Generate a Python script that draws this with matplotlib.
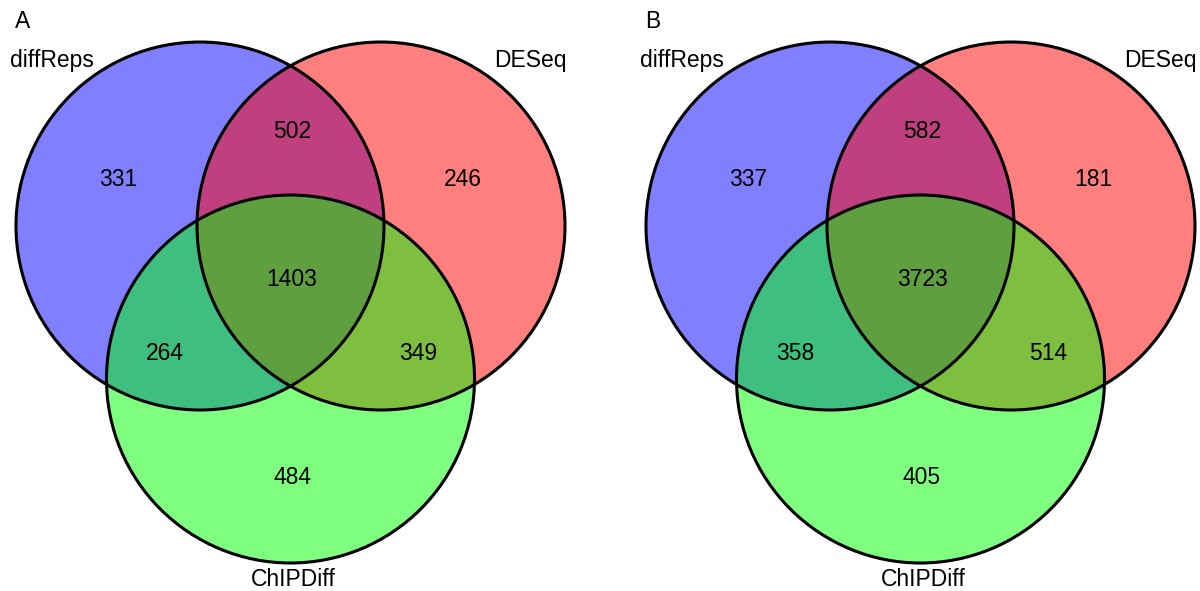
import matplotlib
matplotlib.use("Agg")
import matplotlib.pyplot as plt
from matplotlib.patches import Circle

plt.rcParams["font.family"] = ["Liberation Sans", "DejaVu Sans"]

# set names and region counts, order: only A, A&B, only B, A&B&C, A&C, B&C, only C
set_names = ["diffReps", "DESeq", "ChIPDiff"]
panel_letters = ["A", "B"]
regions = ["a", "ab", "b", "abc", "ac", "bc", "c"]
counts_A = [331, 502, 246, 1403, 264, 349, 484]
counts_B = [337, 582, 181, 3723, 358, 514, 405]

colors = ["blue", "red", "lime"]

# layout (pixel units, y pointing down)
r = 184
centers = [(200, 226), (381, 226), (290.5, 379)]
region_pos = {"a": (118, 180), "ab": (292, 132), "b": (463, 180),
              "abc": (292, 280), "ac": (165, 353), "bc": (418, 353),
              "c": (292, 478)}
name_pos = [(52, 60), (530, 60), (293, 580)]
panel_offset = 630

fig = plt.figure(figsize=(12, 5.91), dpi=100)
ax = fig.add_axes([0, 0, 1, 1])
ax.set_xlim(0, 1200)
ax.set_ylim(591, 0)
ax.set_aspect("equal")
ax.axis("off")

for p, (letter, counts) in enumerate(zip(panel_letters, [counts_A, counts_B])):
    ox = p * panel_offset
    for (cx, cy), col in zip(centers, colors):
        ax.add_patch(Circle((cx + ox, cy), r, facecolor=col, alpha=0.5,
                            edgecolor="none", zorder=1))
    for cx, cy in centers:
        ax.add_patch(Circle((cx + ox, cy), r, facecolor="none",
                            edgecolor="black", lw=2.2, zorder=2))
    for key, n in zip(regions, counts):
        x, y = region_pos[key]
        ax.text(x + ox, y, str(n), ha="center", va="center", fontsize=16.5, zorder=3)
    for name, (x, y) in zip(set_names, name_pos):
        ax.text(x + ox, y, name, ha="center", va="center", fontsize=16.5, zorder=3)
    ax.text(23 + ox, 21, letter, ha="center", va="center", fontsize=16.5, zorder=3)

fig.savefig("out.png", dpi=100)
